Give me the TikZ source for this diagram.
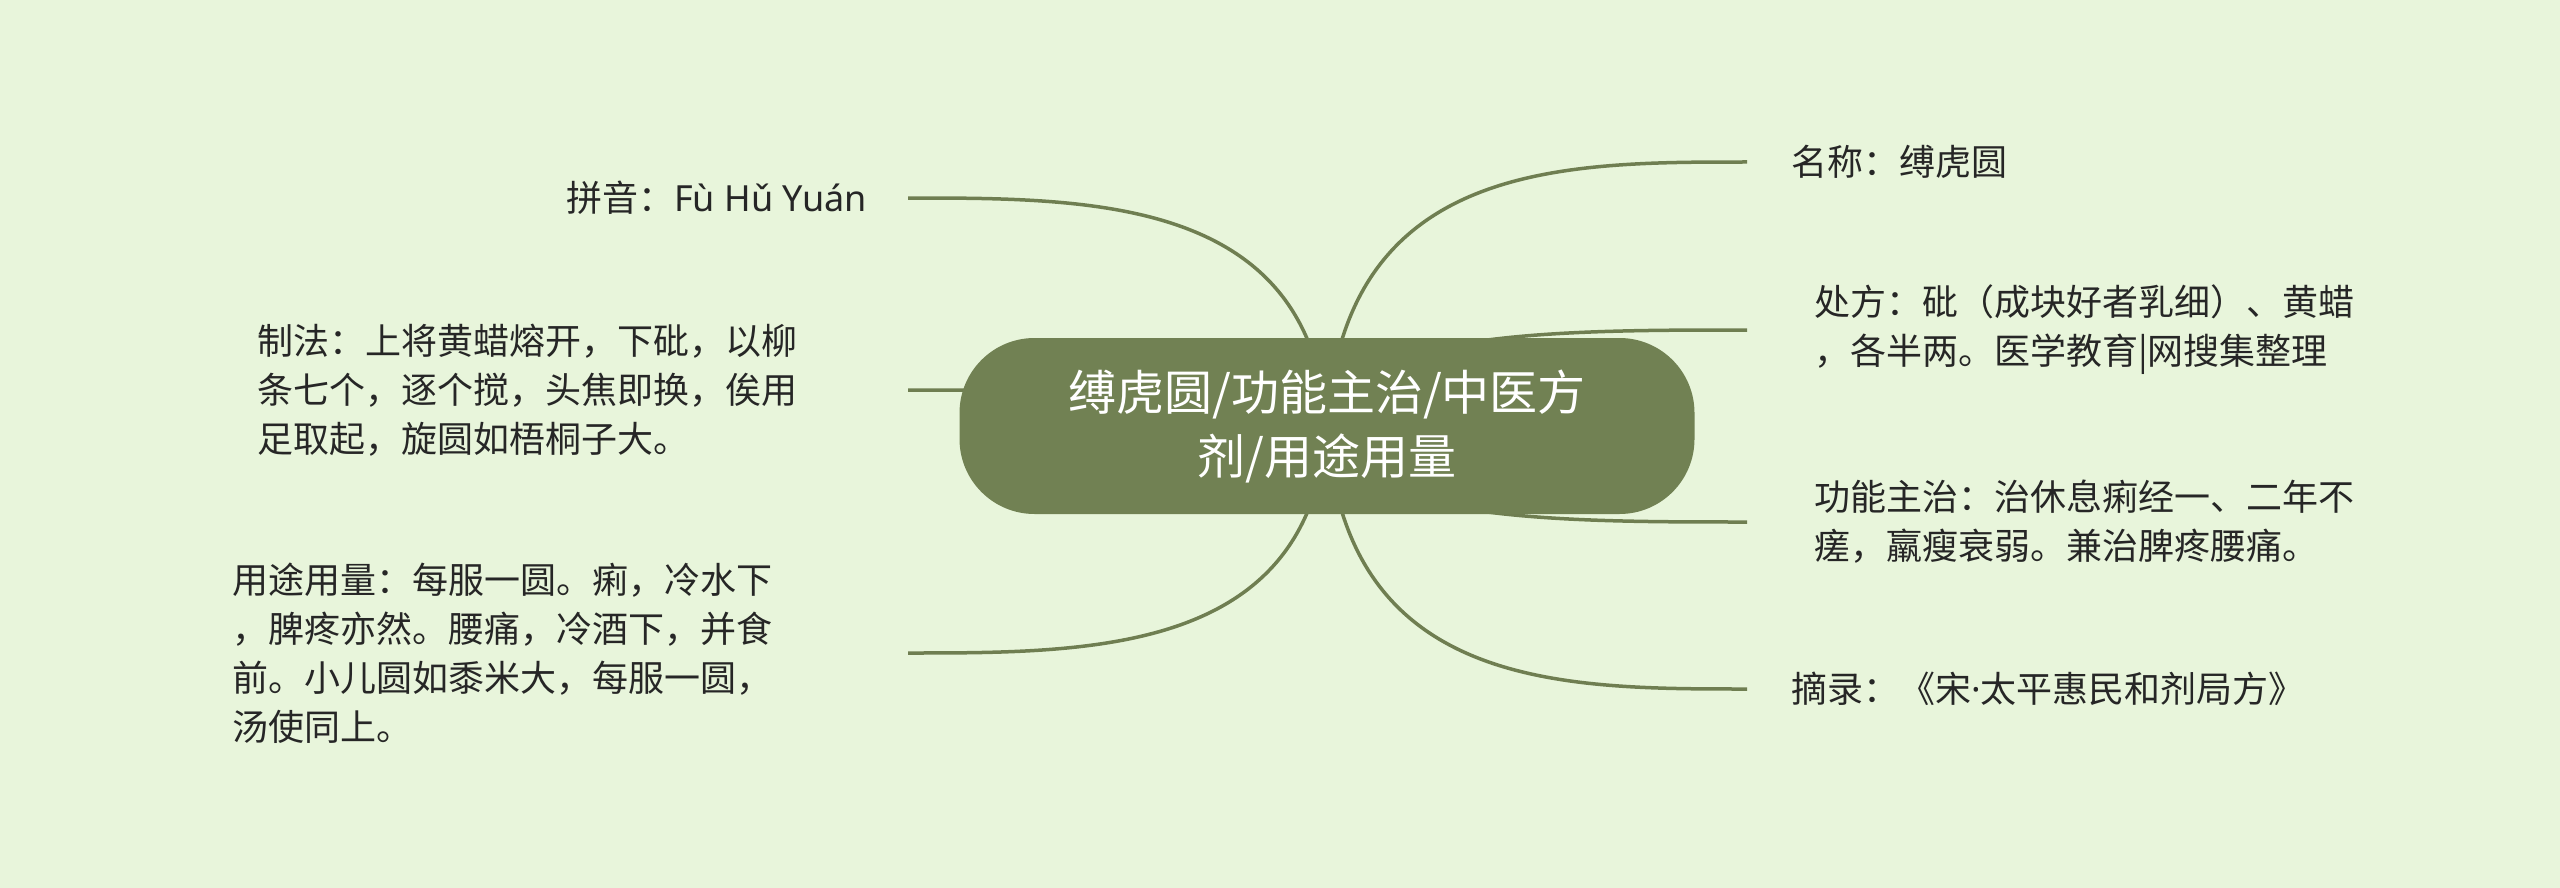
\documentclass[tikz,border=0pt]{standalone}
\usepackage{fontspec}
\setmainfont{Noto Sans CJK SC}
\newfontfamily\latinfont{Noto Sans}
\usetikzlibrary{calc}
\definecolor{bgc}{HTML}{E8F5DB}
\definecolor{nodefill}{HTML}{718153}
\definecolor{linec}{HTML}{6F7E51}
\definecolor{txt}{HTML}{262626}
\pgfdeclarelayer{back}
\pgfsetlayers{back,main}
\newcommand\mmconn[2]{\draw[conn] let \p1=(#1), \p2=(#2) in (\p1) .. controls ({\x1+0.04*(\x2-\x1)},\y2) and ({\x1+0.555*(\x2-\x1)},\y2) .. (\p2);}
\begin{document}
\begin{tikzpicture}[x=1pt,y=-1pt,
  conn/.style={draw=linec,line width=3.5pt},
  centre/.style={rectangle,rounded corners=75pt,fill=nodefill,text=white,
    minimum width=735pt,minimum height=176pt,align=center,
    font=\fontsize{48pt}{64pt}\selectfont},
  leaf/.style={text=txt,align=left,inner ysep=0pt,
    font=\fontsize{36pt}{49pt}\selectfont}]
\useasboundingbox (0,0) rectangle (2560,888);
\node[centre] (c) at (1327,426) {缚虎圆/功能主治/中医方\\剂/用途用量};
% right side
\node[leaf,anchor=west,inner xsep=44pt] (n1) at (1747,162) {名称：缚虎圆};
\node[leaf,anchor=west,inner xsep=67pt] (n2) at (1747,330) {处方：砒（成块好者乳细）、黄蜡\\，各半两。医学教育|网搜集整理};
\node[leaf,anchor=west,inner xsep=67pt] (n3) at (1747,522) {功能主治：治休息痢经一、二年不\\瘥，羸瘦衰弱。兼治脾疼腰痛。};
\node[leaf,anchor=west,inner xsep=44pt] (n4) at (1747,689) {摘录：《宋{\latinfont ·}太平惠民和剂局方》};
% left side
\node[leaf,anchor=east,inner xsep=41pt] (m1) at (908,198) {拼音：{\latinfont Fù Hǔ Yuán}};
\node[leaf,anchor=east,inner xsep=110pt] (m2) at (908,390) {制法：上将黄蜡熔开，下砒，以柳\\条七个，逐个搅，头焦即换，俟用\\足取起，旋圆如梧桐子大。};
\node[leaf,anchor=east,inner xsep=135pt] (m3) at (908,653) {用途用量：每服一圆。痢，冷水下\\，脾疼亦然。腰痛，冷酒下，并食\\前。小儿圆如黍米大，每服一圆，\\汤使同上。};
\begin{pgfonlayer}{back}
\fill[bgc] (0,0) rectangle (2560,888);
\mmconn{c.center}{n1.west}
\mmconn{c.center}{n2.west}
\mmconn{c.center}{n3.west}
\mmconn{c.center}{n4.west}
\mmconn{c.center}{m1.east}
\mmconn{c.center}{m2.east}
\mmconn{c.center}{m3.east}
\end{pgfonlayer}
\end{tikzpicture}
\end{document}
